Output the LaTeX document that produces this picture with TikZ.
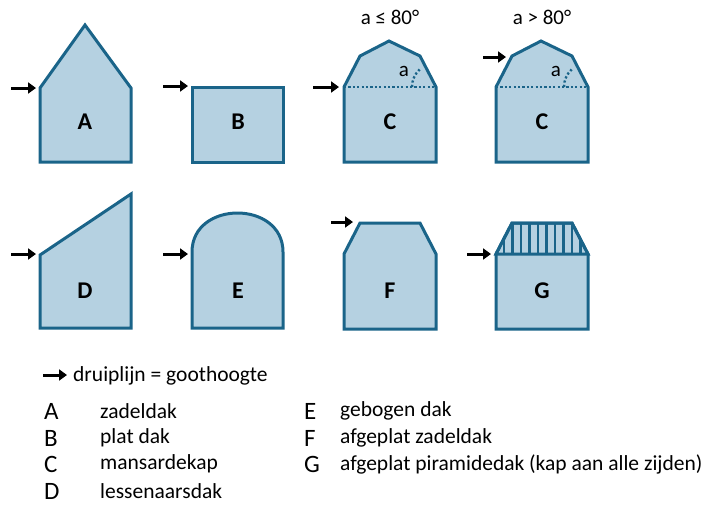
\documentclass[tikz,border=0pt]{standalone}
\usepackage{fontspec}
\setmainfont{Carlito}
\usetikzlibrary{arrows.meta}
\definecolor{fillb}{HTML}{B5D1E1}
\definecolor{edge}{HTML}{1A6489}
\tikzset{
 house/.style={draw=edge,fill=fillb,line width=3pt,line join=miter},
 arr/.style={line width=3pt,-{Triangle[length=8pt,width=11pt]}},
 lbl/.style={font=\bfseries\fontsize{24}{24}\selectfont},
 dots/.style={draw=edge,line width=2.4pt,dash pattern=on 2.2pt off 2.2pt},
 small/.style={font=\fontsize{21}{21}\selectfont},
 txt/.style={font=\fontsize{21.5}{22}\selectfont,anchor=west,inner sep=0},
 big/.style={font=\fontsize{25}{25}\selectfont,anchor=west,inner sep=0}
}
\begin{document}
\begin{tikzpicture}[x=1pt,y=-1pt]
\useasboundingbox (0,0) rectangle (710,517);
% A
\draw[house] (40,162) -- (40,88) -- (85,25) -- (131,88) -- (131,162) -- cycle;
\node[lbl] (la) at (85,122) {A};
\coordinate (a1) at (11,88); \coordinate (a2) at (36,88); \draw[arr] (a1) -- (a2);
% B
\draw[house] (192,162) rectangle (283,87);
\node[lbl] (lb) at (238,122) {B};
\coordinate (b1) at (163,86); \coordinate (b2) at (188,86); \draw[arr] (b1) -- (b2);
% C1
\draw[house] (344,162) -- (344,87) -- (360,56) -- (389,41) -- (420,56) -- (436,87) -- (436,162) -- cycle;
\draw[dots] (344,87) -- (436,87);
\draw[dots] (412,87) arc[start angle=180,end angle=227,radius=24];
\node[small] (ca1) at (404,71) {a};
\node[lbl] (lc1) at (390,122) {C};
\node[small] (t1) at (390,17) {a ≤ 80°};
\coordinate (c1) at (313,87); \coordinate (c2) at (339,87); \draw[arr] (c1) -- (c2);
% C2
\draw[house] (496,162) -- (496,87) -- (512,56) -- (541,41) -- (572,56) -- (588,87) -- (588,162) -- cycle;
\draw[dots] (496,87) -- (588,87);
\draw[dots] (564,87) arc[start angle=180,end angle=227,radius=24];
\node[small] (ca2) at (556,71) {a};
\node[lbl] (lc2) at (542,122) {C};
\node[small] (t2) at (542,17) {a > 80°};
\coordinate (d1) at (483,57); \coordinate (d2) at (506,57); \draw[arr] (d1) -- (d2);
% D
\draw[house] (40,328) -- (40,255) -- (131,194) -- (131,328) -- cycle;
\node[lbl] (ld) at (85,291) {D};
\coordinate (e1) at (11,254); \coordinate (e2) at (36,254); \draw[arr] (e1) -- (e2);
% E
\draw[house] (192,328) -- (192,252) .. controls (192,200) and (283,200) .. (283,252) -- (283,328) -- cycle;
\node[lbl] (le) at (238,291) {E};
\coordinate (f1) at (163,254); \coordinate (f2) at (188,254); \draw[arr] (f1) -- (f2);
% F
\draw[house] (344,329) -- (344,254) -- (360,223) -- (420,223) -- (436,254) -- (436,329) -- cycle;
\node[lbl] (lf) at (390,291) {F};
\coordinate (g1) at (331,222); \coordinate (g2) at (353,222); \draw[arr] (g1) -- (g2);
% G
\draw[house] (496,329) -- (496,254) -- (512,223) -- (572,223) -- (588,254) -- (588,329) -- cycle;
\begin{scope}
\clip (496,254) -- (512,223) -- (572,223) -- (588,254) -- cycle;
\foreach \x in {504,512.5,521,529.5,538,546.5,555,563.5,572,580.5}{\draw[edge,line width=2.5pt] (\x,220) -- (\x,256);}
\end{scope}
\draw[edge,line width=3pt,line join=miter] (496,254) -- (512,223) -- (572,223) -- (588,254) -- cycle;
\node[lbl] (lg) at (542,291) {G};
\coordinate (h1) at (467,254); \coordinate (h2) at (491,254); \draw[arr] (h1) -- (h2);
% legend
\coordinate (k1) at (43,375); \coordinate (k2) at (67,375); \draw[arr] (k1) -- (k2);
\node[txt] (kt) at (73,376) {druiplijn = goothoogte};
\node[big] (LA) at (44,411) {A}; \node[txt] (DA) at (100,411) {zadeldak};
\node[big] (LB) at (44,438) {B}; \node[txt] (DB) at (100,438) {plat dak};
\node[big] (LC) at (44,464) {C}; \node[txt] (DC) at (100,464) {mansardekap};
\node[big] (LD) at (44,491) {D}; \node[txt] (DD) at (100,491) {lessenaarsdak};
\node[big] (LE) at (304,411) {E}; \node[txt] (DE) at (340,411) {gebogen dak};
\node[big] (LF) at (304,438) {F}; \node[txt] (DF) at (340,438) {afgeplat zadeldak};
\node[big] (LG) at (304,464) {G}; \node[txt] (DG) at (340,464) {afgeplat piramidedak (kap aan alle zijden)};
\end{tikzpicture}
\end{document}
